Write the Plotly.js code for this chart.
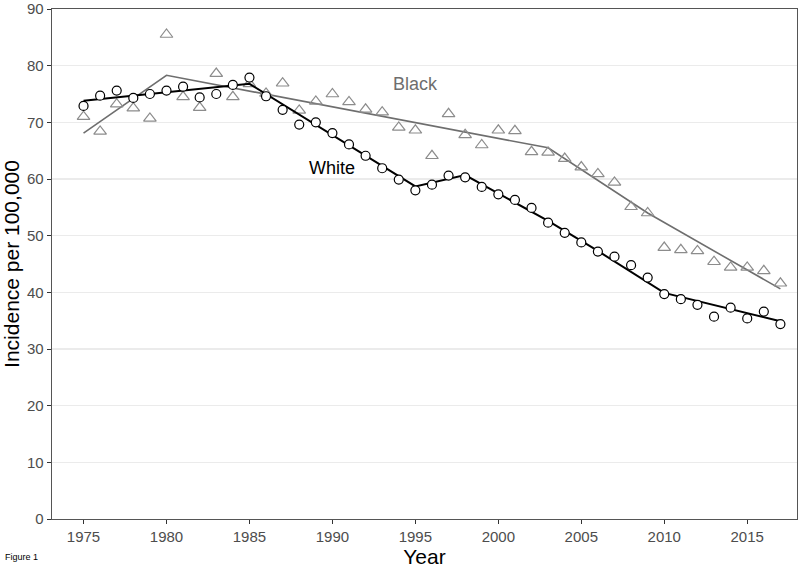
<!DOCTYPE html>
<html>
<head>
<meta charset="utf-8">
<script src="https://cdn.plot.ly/plotly-3.0.1.min.js"></script>
<style>
  html, body { margin: 0; padding: 0; background: #fff; }
  #plot { width: 800px; height: 570px; }
</style>
</head>
<body>
<div id="plot"></div>
<script>
// years 1975-2017
const years = [];
for (let y = 1975; y <= 2017; y++) years.push(y);

// observed rates, White (circles)
const whiteObs = [72.9, 74.7, 75.6, 74.3, 75.0, 75.6, 76.3, 74.4, 75.0, 76.6,
  77.9, 74.6, 72.2, 69.6, 70.0, 68.1, 66.1, 64.1, 61.9, 59.9,
  58.0, 59.0, 60.6, 60.3, 58.6, 57.3, 56.3, 54.9, 52.3, 50.5,
  48.8, 47.2, 46.3, 44.8, 42.6, 39.7, 38.8, 37.8, 35.7, 37.3,
  35.4, 36.6, 34.4];

// observed rates, Black (triangles)
const blackObs = [71.0, 68.4, 73.2, 72.5, 70.7, 85.5, 74.5, 72.6, 78.6, 74.5,
  76.8, 75.1, 76.9, 72.1, 73.7, 75.0, 73.6, 72.3, 71.8, 69.1,
  68.6, 64.1, 71.5, 67.8, 66.0, 68.6, 68.5, 64.8, 64.7, 63.6,
  62.1, 60.9, 59.4, 55.1, 54.0, 47.9, 47.5, 47.3, 45.4, 44.4,
  44.4, 43.8, 41.6];

// fitted joinpoint trends
const whiteFitYears = [1975, 1985, 1995, 1998, 2003, 2006, 2010, 2017];
const whiteFit = [73.8, 76.8, 58.7, 60.7, 52.6, 47.3, 39.9, 34.9];
const blackFitYears = [1975, 1980, 2003, 2009, 2017];
const blackFit = [68.1, 78.3, 65.5, 54.0, 40.6];

const xTicks = [1975, 1980, 1985, 1990, 1995, 2000, 2005, 2010, 2015];
const yTicks = [0, 10, 20, 30, 40, 50, 60, 70, 80, 90];

const font = "Liberation Sans, Arial, sans-serif";

const data = [
  {
    x: blackFitYears, y: blackFit, mode: "lines",
    line: { color: "#6e6e6e", width: 1.6 },
    hoverinfo: "skip"
  },
  {
    x: years, y: blackObs, mode: "markers",
    marker: { symbol: "triangle-up", size: 11, color: "rgba(255,255,255,0)",
      line: { color: "#8c8c8c", width: 1.2 } }
  },
  {
    x: whiteFitYears, y: whiteFit, mode: "lines",
    line: { color: "#000", width: 2 },
    hoverinfo: "skip"
  },
  {
    x: years, y: whiteObs, mode: "markers",
    marker: { symbol: "circle", size: 9, color: "#fff",
      line: { color: "#000", width: 1.2 } }
  }
];

const layout = {
  width: 800,
  height: 570,
  margin: { l: 52, r: 3, t: 9, b: 51 },
  paper_bgcolor: "#fff",
  plot_bgcolor: "#fff",
  showlegend: false,
  font: { family: font },
  xaxis: {
    range: [1973.1, 2018.0],
    tickvals: xTicks,
    ticks: "outside", ticklen: 4, tickcolor: "#333", tickwidth: 1,
    tickfont: { size: 15, color: "#4d4d4d" },
    showgrid: false, zeroline: false,
    showline: true, mirror: true, linecolor: "#555", linewidth: 1.3,
    title: { text: "Year", font: { size: 21, color: "#000" }, standoff: 4 }
  },
  yaxis: {
    range: [0, 90],
    tickvals: yTicks,
    ticklabeloverflow: "allow",
    ticks: "outside", ticklen: 4, tickcolor: "#333", tickwidth: 1,
    tickfont: { size: 15, color: "#4d4d4d" },
    showgrid: true, gridcolor: "#ebebeb", gridwidth: 1.2,
    zeroline: false,
    showline: true, mirror: true, linecolor: "#555", linewidth: 1.3,
    title: { text: "Incidence per 100,000", font: { size: 21, color: "#000" }, standoff: 6 }
  },
  annotations: [
    { x: 1995.0, y: 76.8, xref: "x", yref: "y", text: "Black", showarrow: false,
      font: { size: 18, color: "#6e6e6e" } },
    { x: 1990.0, y: 61.9, xref: "x", yref: "y", text: "White", showarrow: false,
      font: { size: 18, color: "#000" } },
    { x: -0.066, y: 0, xref: "paper", yref: "paper", xanchor: "left", yanchor: "middle",
      yshift: -38, text: "Figure 1", showarrow: false,
      font: { size: 9, color: "#000" } }
  ]
};

Plotly.newPlot("plot", data, layout, { displayModeBar: false, staticPlot: true });
</script>
</body>
</html>
